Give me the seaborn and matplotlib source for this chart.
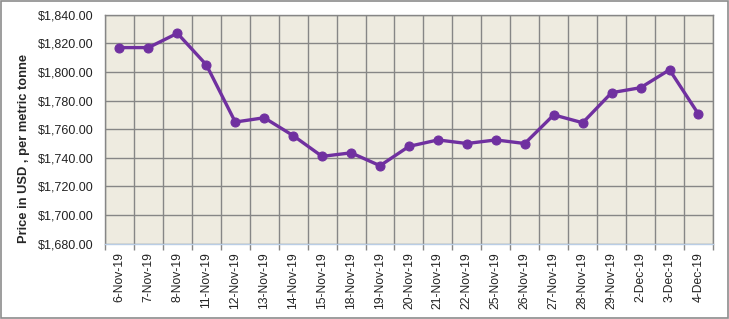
import numpy as np
import pandas as pd
import matplotlib
matplotlib.use("Agg")
import matplotlib.pyplot as plt
import seaborn as sns
from matplotlib.patches import Rectangle
from matplotlib.ticker import FuncFormatter, FixedLocator

dates = ["6-Nov-19", "7-Nov-19", "8-Nov-19", "11-Nov-19", "12-Nov-19", "13-Nov-19",
         "14-Nov-19", "15-Nov-19", "18-Nov-19", "19-Nov-19", "20-Nov-19", "21-Nov-19",
         "22-Nov-19", "25-Nov-19", "26-Nov-19", "27-Nov-19", "28-Nov-19", "29-Nov-19",
         "2-Dec-19", "3-Dec-19", "4-Dec-19"]
prices = [1817, 1817, 1827, 1805, 1765, 1768, 1755.5, 1741, 1743.5, 1734.5, 1748,
          1752.5, 1750, 1752.5, 1750, 1770, 1764.5, 1785.5, 1789, 1801.5, 1770.5]

INK = "#7030A0"
GRID = "#868686"
BG = "#EEEBE0"

sns.set_theme(style="white")
plt.rcParams["font.family"] = ["Liberation Sans", "DejaVu Sans"]

df = pd.DataFrame({"pos": np.arange(len(dates)), "price": prices})

fig, ax = plt.subplots(figsize=(7.29, 3.19), dpi=100)
fig.subplots_adjust(left=0.144, right=0.978, top=0.954, bottom=0.236)
ax.set_facecolor(BG)

sns.lineplot(data=df, x="pos", y="price", ax=ax, color=INK, linewidth=2.4,
             marker="o", markersize=6.5, markeredgecolor=INK, zorder=3)

n = len(dates)
ax.set_xlim(-0.5, n - 0.5)
ax.set_ylim(1680, 1840)
ax.set_xticks(np.arange(n))
ax.set_xticklabels(dates, rotation=90, fontsize=8.7, color="#222222")
ax.xaxis.set_minor_locator(FixedLocator(np.arange(n + 1) - 0.5))
ax.set_yticks(np.arange(1680, 1841, 20))
ax.yaxis.set_major_formatter(FuncFormatter(lambda v, p: f"${v:,.2f}"))
ax.tick_params(axis="y", labelsize=9, length=0, pad=8, labelcolor="#222222")
ax.tick_params(axis="x", which="major", length=0, pad=6)
ax.tick_params(axis="x", which="minor", length=4, color=GRID, bottom=True)
ax.grid(True, axis="y", color=GRID, linewidth=1)
ax.grid(True, axis="x", which="minor", color=GRID, linewidth=1)
ax.set_axisbelow(True)
for s in ["top", "right", "left"]:
    ax.spines[s].set_color(GRID)
    ax.spines[s].set_linewidth(1)
ax.spines["bottom"].set_color("#B9CDE5")
ax.spines["bottom"].set_linewidth(1)

ax.set_xlabel("")
ax.set_ylabel("")
# axis title sits a bit below the plot centre, as in the original
fig.text(24 / 729, 1 - 148 / 319, "Price in USD , per metric tonne", rotation=90,
         ha="center", va="center", fontsize=9.3, fontweight="bold")

fig.patches.append(Rectangle((0.001, 0.002), 0.997, 0.995, transform=fig.transFigure,
                             fill=False, edgecolor="#8C8C8C", linewidth=1.2))

fig.savefig("out.png", dpi=100)
